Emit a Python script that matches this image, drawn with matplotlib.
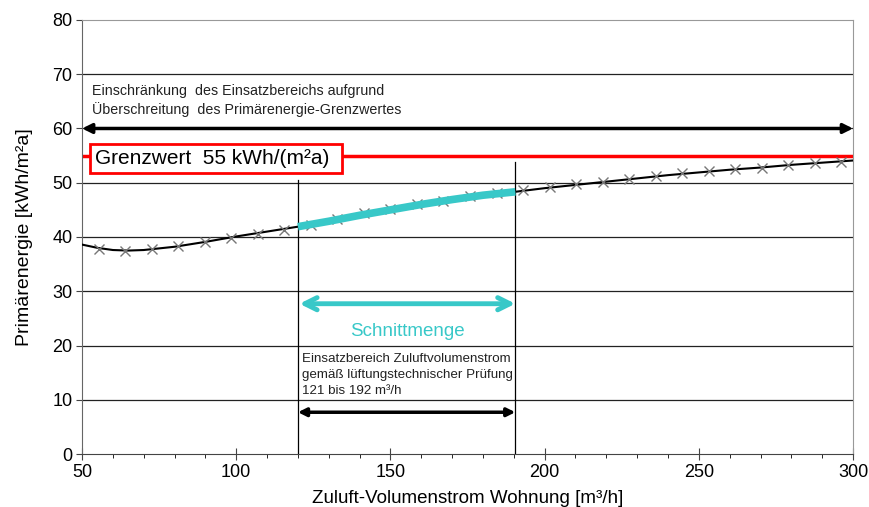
import matplotlib.pyplot as plt
import numpy as np
from matplotlib.patches import Rectangle

plt.rcParams['font.family'] = ['Liberation Sans', 'DejaVu Sans']

# measured points (x markers)
mark_x = [55.5, 64.0, 72.6, 81.2, 89.8, 98.4, 107.0, 115.6, 124.2, 132.8,
          141.4, 150.0, 158.6, 167.2, 175.8, 184.4, 193.0, 201.6, 210.2, 218.8,
          227.4, 236.0, 244.6, 253.2, 261.8, 270.4, 279.0, 287.6, 296.2]
mark_y = [37.8, 37.4, 37.8, 38.4, 39.1, 39.9, 40.6, 41.3, 42.2, 43.4,
          44.4, 45.1, 46.1, 46.6, 47.6, 48.2, 48.6, 49.2, 49.8, 50.2,
          50.7, 51.2, 51.8, 52.1, 52.5, 52.8, 53.3, 53.6, 53.8]

# fitted curve
curve_x = [50, 55, 60, 65, 70, 80, 90, 100, 110, 120, 130, 140, 150, 160,
           170, 180, 190, 200, 210, 220, 230, 240, 250, 260, 270, 280, 290, 300]
curve_y = [38.6, 38.0, 37.6, 37.5, 37.6, 38.2, 39.1, 40.1, 41.0, 41.9, 42.9,
           44.0, 45.0, 46.0, 46.9, 47.7, 48.3, 49.0, 49.6, 50.2, 50.8, 51.4,
           51.9, 52.4, 52.8, 53.3, 53.7, 54.1]

grenzwert = 55
range_lo, range_hi = 120, 190.5
cyan = '#38c8c8'

fig = plt.figure(figsize=(8.7, 5.07), dpi=100)
ax = fig.add_axes([0.0943, 0.1045, 0.8862, 0.8561])

ax.set_xlim(50, 300)
ax.set_ylim(0, 80)
ax.set_xticks(np.arange(50, 301, 50))
ax.set_xticks(np.arange(50, 301, 10), minor=True)
ax.set_yticks(np.arange(0, 81, 10))
for y in range(10, 80, 10):
    ax.axhline(y, color='#222222', lw=0.9, zorder=1)

for s in ['top', 'right']:
    ax.spines[s].set_color('#999999')
ax.spines['left'].set_color('#666666')
ax.spines['bottom'].set_color('#444444')
ax.tick_params(axis='both', labelsize=13, colors='#444444', labelcolor='black')
ax.tick_params(axis='x', which='major', direction='inout', length=8)
ax.tick_params(axis='x', which='minor', direction='out', length=3)
ax.tick_params(axis='y', direction='out', length=4, pad=3)

ax.set_xlabel('Zuluft-Volumenstrom Wohnung [m³/h]', fontsize=13.5, labelpad=6)
ax.set_ylabel('Primärenergie [kWh/m²a]', fontsize=14, labelpad=14)

# red limit line
ax.axhline(grenzwert, color='red', lw=2.5, zorder=2)
ax.add_patch(Rectangle((52.6, 51.8), 81.7, 5.3, facecolor='white',
                       edgecolor='red', lw=2, zorder=3))
ax.text(54.2, 54.5, 'Grenzwert  55 kWh/(m²a)', fontsize=15, va='center',
        ha='left', zorder=4)

# curve and markers
ax.plot(curve_x, curve_y, color='black', lw=1.5, zorder=5)
ax.plot(mark_x, mark_y, ls='none', marker='x', ms=7, mew=1, color='#777777', zorder=6)

# cyan intersection segment
seg_x = [x for x in curve_x if range_lo <= x <= range_hi] + [range_hi]
seg_y = list(np.interp(seg_x, curve_x, curve_y))
ax.plot(seg_x, seg_y, color=cyan, lw=5.5, solid_capstyle='butt', zorder=7)

# vertical range lines
ax.plot([range_lo, range_lo], [0, 50.5], color='black', lw=0.9, zorder=4)
ax.plot([range_hi, range_hi], [0, 53.8], color='black', lw=0.9, zorder=4)

# arrows
ax.annotate('', xy=(300, 60), xytext=(50, 60),
            arrowprops=dict(arrowstyle='<|-|>', color='black', lw=2.5,
                            mutation_scale=14, shrinkA=0, shrinkB=0), zorder=8)
ax.annotate('', xy=(range_hi, 27.7), xytext=(range_lo + 0.5, 27.7),
            arrowprops=dict(arrowstyle='<->', color=cyan, lw=3.5,
                            mutation_scale=22, shrinkA=0, shrinkB=0), zorder=8)
ax.annotate('', xy=(range_hi, 7.7), xytext=(range_lo, 7.7),
            arrowprops=dict(arrowstyle='<|-|>', color='black', lw=2.5,
                            mutation_scale=12, shrinkA=0, shrinkB=0), zorder=8)

# texts
ax.text(53.2, 65.2, 'Einschränkung  des Einsatzbereichs aufgrund\n'
        'Überschreitung  des Primärenergie-Grenzwertes',
        fontsize=10.3, color='#222222', va='center', ha='left', linespacing=1.35)
ax.text(155.5, 22.5, 'Schnittmenge', fontsize=13.5, color=cyan, ha='center', va='center')
ax.text(121.2, 14.6, 'Einsatzbereich Zuluftvolumenstrom\n'
        'gemäß lüftungstechnischer Prüfung\n121 bis 192 m³/h',
        fontsize=9.6, color='#222222', va='center', ha='left', linespacing=1.45)

fig.savefig('out.png', dpi=100)
